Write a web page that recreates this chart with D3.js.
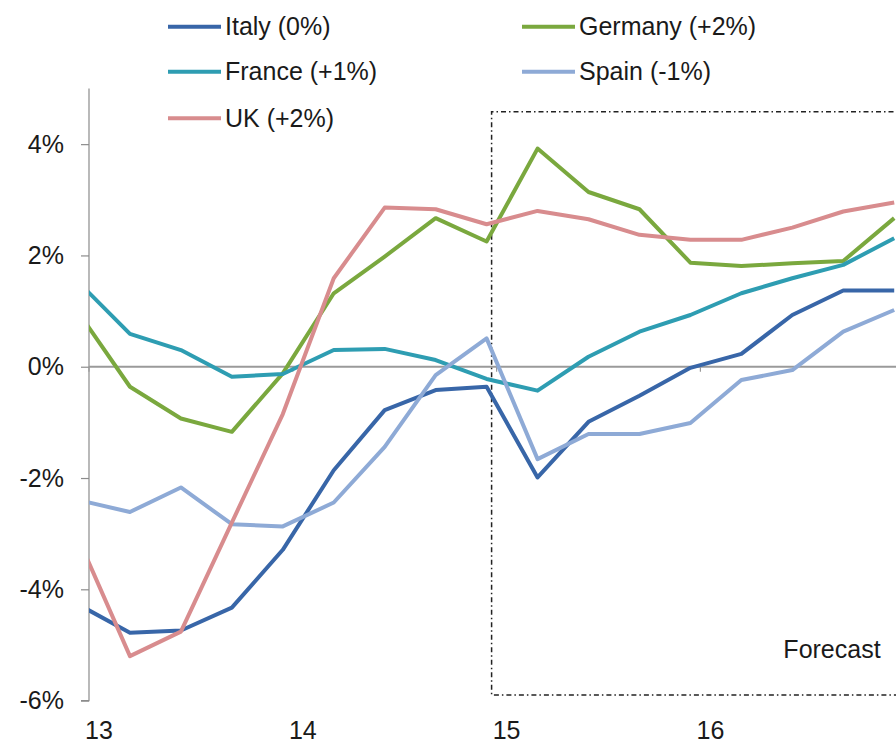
<!DOCTYPE html>
<html>
<head>
<meta charset="utf-8">
<script src="https://cdn.jsdelivr.net/npm/d3@7"></script>
<style>
  html, body { margin: 0; padding: 0; background: #fff; }
  svg { display: block; }
  text { font-family: "Liberation Sans", Arial, sans-serif; fill: #1a1a1a; }
</style>
</head>
<body>
<svg id="chart" width="896" height="745"></svg>
<script>
// ---- data ----
const quarters = ["1Q13","2Q13","3Q13","4Q13","1Q14","2Q14","3Q14","4Q14",
                  "1Q15","2Q15","3Q15","4Q15","1Q16","2Q16","3Q16","4Q16","1Q17"];
const yearLabels = ["13", "14", "15", "16"];
const yearStart = ["1Q13", "1Q14", "1Q15", "1Q16"];
const yTicks = [-6, -4, -2, 0, 2, 4];
const forecastStart = "1Q15";

const italy   = [-4.28, -4.78, -4.74, -4.33, -3.29, -1.86, -0.78, -0.42, -0.36, -1.99, -0.99, -0.52, -0.02, 0.23, 0.93, 1.37, 1.37];
const germany = [0.96, -0.36, -0.93, -1.17, -0.12, 1.32, 1.98, 2.67, 2.25, 3.92, 3.14, 2.83, 1.87, 1.81, 1.86, 1.90, 2.67];
const france  = [1.51, 0.59, 0.30, -0.18, -0.13, 0.30, 0.32, 0.12, -0.22, -0.43, 0.18, 0.63, 0.93, 1.32, 1.59, 1.83, 2.31];
const spain   = [-2.40, -2.61, -2.17, -2.83, -2.87, -2.44, -1.44, -0.15, 0.51, -1.66, -1.21, -1.21, -1.01, -0.24, -0.06, 0.63, 1.02];
const uk      = [-3.12, -5.20, -4.76, -2.80, -0.85, 1.59, 2.86, 2.83, 2.56, 2.80, 2.65, 2.37, 2.28, 2.28, 2.50, 2.79, 2.95];

const seriesNames  = ["Italy (0%)", "Germany (+2%)", "France (+1%)", "Spain (-1%)", "UK (+2%)"];
const seriesValues = [italy, germany, france, spain, uk];
const seriesColors = ["#3866a8", "#7aa83e", "#2e9db2", "#8eaad6", "#d88c8e"];

// ---- layout ----
const svg = d3.select("#chart");
const plotLeft = 89, plotRight = 896, plotTop = 88, plotBottom = 701;
const step = 50.95;

const x = d3.scalePoint()
  .domain(quarters)
  .range([79, 79 + step * (quarters.length - 1)]);

const y = d3.scaleLinear()
  .domain([-6, 5])
  .range([700.6, 88.5]);

// clip
svg.append("defs").append("clipPath").attr("id", "plotclip")
  .append("rect")
  .attr("x", plotLeft).attr("y", plotTop)
  .attr("width", plotRight - plotLeft).attr("height", plotBottom - plotTop);

// y axis
const yAxis = d3.axisLeft(y)
  .tickValues(yTicks)
  .tickSize(8)
  .tickPadding(17)
  .tickFormat(d => d + "%");

const gy = svg.append("g")
  .attr("transform", `translate(${plotLeft},0)`)
  .call(yAxis);
gy.select(".domain").attr("stroke", "#8c8c8c").attr("stroke-width", 1.2)
  .attr("d", `M-8,${y(-6)}H0V${y(5)}`);
gy.selectAll(".tick line").attr("stroke", "#8c8c8c").attr("stroke-width", 1.2);
gy.selectAll(".tick text")
  .attr("font-size", 25)
  .attr("fill", "#1a1a1a")
  .attr("font-family", '"Liberation Sans", Arial, sans-serif');

// zero line (category axis)
svg.append("line")
  .attr("x1", plotLeft).attr("x2", plotRight)
  .attr("y1", y(0)).attr("y2", y(0))
  .attr("stroke", "#9a9a9a").attr("stroke-width", 2);

// year ticks on zero line
svg.append("g").selectAll("line")
  .data(yearStart)
  .join("line")
  .attr("x1", d => x(d) + 10).attr("x2", d => x(d) + 10)
  .attr("y1", y(0)).attr("y2", y(0) + 5)
  .attr("stroke", "#9a9a9a").attr("stroke-width", 1.2);

// year labels
svg.append("g").selectAll("text")
  .data(yearLabels)
  .join("text")
  .attr("x", (d, i) => x(yearStart[i]) + 20)
  .attr("y", 739)
  .attr("text-anchor", "middle")
  .attr("font-size", 25)
  .text(d => d);

// forecast box
const fx = x(forecastStart) + 5;
const boxTop = 111.7, boxBottom = 695;
svg.append("path")
  .attr("d", `M${plotRight + 10},${boxTop}H${fx}V${boxBottom}H${plotRight + 10}`)
  .attr("fill", "none")
  .attr("stroke", "#222")
  .attr("stroke-width", 1.5)
  .attr("stroke-dasharray", "5,3,1.5,3");

svg.append("text")
  .attr("x", 832)
  .attr("y", 658)
  .attr("text-anchor", "middle")
  .attr("font-size", 25)
  .text("Forecast");

// series lines
const line = d3.line()
  .x((d, i) => x(quarters[i]))
  .y(d => y(d));

const gl = svg.append("g").attr("clip-path", "url(#plotclip)");
gl.selectAll("path")
  .data(seriesValues)
  .join("path")
  .attr("d", d => line(d))
  .attr("fill", "none")
  .attr("stroke", (d, i) => seriesColors[i])
  .attr("stroke-width", 4)
  .attr("stroke-linejoin", "round");

// legend
const legendPos = [
  {lx: 168, ly: 26.7},
  {lx: 522, ly: 26.7},
  {lx: 168, ly: 71.7},
  {lx: 522, ly: 71.7},
  {lx: 168, ly: 118.3}
];
const lg = svg.append("g").selectAll("g")
  .data(seriesNames)
  .join("g")
  .attr("transform", (d, i) => `translate(${legendPos[i].lx},${legendPos[i].ly})`);
lg.append("line")
  .attr("x1", 0).attr("x2", 53)
  .attr("y1", 0).attr("y2", 0)
  .attr("stroke", (d, i) => seriesColors[i])
  .attr("stroke-width", 4);
lg.append("text")
  .attr("x", 57)
  .attr("y", 0)
  .attr("dy", "0.35em")
  .attr("font-size", 25)
  .text(d => d);
</script>
</body>
</html>
